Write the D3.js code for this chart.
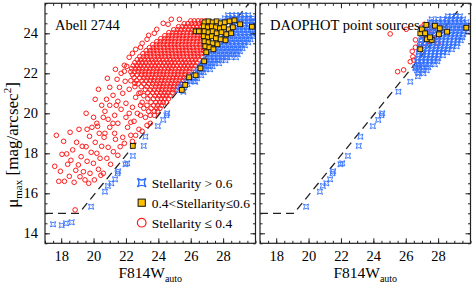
<!DOCTYPE html>
<html>
<head>
<meta charset="utf-8">
<script src="https://cdn.jsdelivr.net/npm/d3@7"></script>
<style>
  body { margin: 0; background: #fff; }
  svg { display: block; font-family: "Liberation Serif", "Times New Roman", serif; }
</style>
</head>
<body>
<div id="chart"></div>
<script>
// axis setup
const xTicks = [18, 20, 22, 24, 26, 28];
const yTicks = [14, 16, 18, 20, 22, 24];
const panelTitles = ["Abell 2744", "DAOPHOT point sources"];
const legendLabels = ["Stellarity > 0.6", "0.4<Stellarity\u22640.6", "Stellarity \u2264 0.4"];
const cutLine = [[17, 15], [19.1, 15], [29.6, 25.5]];

// bright compact sources (both panels)
const brightStars = [[19.85,15.33],[20.7,16.08],[20.88,16.37],[21.1,16.5],[21.33,16.7],[21.48,17.0],[21.52,17.1],
  [21.97,17.45],[22.08,17.5],[22.43,17.87],[23.1,18.37],[23.2,18.83],[23.97,19.36],[24.3,19.67],[24.5,19.9],
  [24.55,20.0],[25.55,21.08],[26.28,21.58],[26.6,22.25],[26.8,22.4]];
// saturated stars, only in the SExtractor panel
const saturatedStars = [[17.5,14.45],[18.03,14.4],[18.3,14.5],[18.65,14.55]];

// Abell 2744 panel: faint compact sources, rows of [mu, [mag...]]
const blueRowsA = [
  [24.9,[28.3,28.55,28.8,29.05,29.3,29.55]],
  [24.75,[28.1,28.35,28.6,28.85,29.1,29.35,29.6,29.85]],
  [24.6,[28.0,28.25,28.75,29.0,29.25,29.5,29.75,29.95]],
  [24.45,[28.6,28.85,29.1,29.35,29.6,29.85]],
  [24.3,[28.55,28.8,29.05,29.3,29.55,29.8]],
  [24.15,[28.45,28.7,28.95,29.2,29.45,29.7,29.95]],
  [24.0,[28.3,28.55,28.8,29.05,29.3,29.55,29.8]],
  [23.85,[28.1,28.35,28.6,28.85,29.1,29.35,29.6,29.85]],
  [23.7,[27.95,28.2,28.45,28.7,28.95,29.2,29.45,29.7]],
  [23.55,[27.8,28.05,28.3,28.55,28.8,29.05,29.3,29.55]],
  [23.4,[27.6,27.85,28.1,28.35,28.6,28.85,29.1,29.35]],
  [23.25,[27.45,27.7,27.95,28.2,28.45,28.7,28.95,29.2]],
  [23.1,[27.3,27.55,27.8,28.05,28.3,28.55,28.8,29.05]],
  [22.95,[27.15,27.4,27.65,27.9,28.15,28.4,28.65,28.9]],
  [22.8,[27.0,27.25,27.5,27.75,28.0,28.25,28.5,28.8]],
  [22.65,[26.9,27.15,27.4,27.65,27.9,28.15]],
  [22.5,[26.75,27.0,27.25,27.5,27.75]],
  [22.35,[26.6,26.85,27.1,27.35]],
  [22.2,[26.45,26.7,26.95,27.2]],
  [22.05,[26.3,26.55,26.8]],
  [21.9,[26.15,26.4,26.65]],
  [21.75,[25.9,26.15,26.4]],
  [21.6,[25.7,25.95,26.2]],
  [21.45,[25.5,25.8]],
  [21.3,[25.35,25.6]],
  [21.15,[25.2]]
];

// Abell 2744 panel: extended sources, dense core rows
const redRowsA = [
  [24.62,[26.0,26.22,26.45,26.68,26.9]],
  [24.48,[25.6,25.82,26.05,26.28,26.5,26.72,26.95]],
  [24.33,[25.25,25.48,25.7,25.92,26.15,26.38,26.6,26.82]],
  [24.18,[24.95,25.18,25.4,25.62,25.85,26.08,26.3,26.52,26.75,26.95]],
  [24.03,[24.65,24.88,25.1,25.32,25.55,25.78,26.0,26.22,26.45,26.68,26.9]],
  [23.88,[24.4,24.62,24.85,25.08,25.3,25.52,25.75,25.98,26.2,26.42,26.65,26.88]],
  [23.73,[24.15,24.38,24.6,24.82,25.05,25.28,25.5,25.72,25.95,26.18,26.4,26.62,26.85]],
  [23.58,[23.9,24.12,24.35,24.58,24.8,25.02,25.25,25.48,25.7,25.92,26.15,26.38,26.6,26.82]],
  [23.43,[23.65,23.88,24.1,24.32,24.55,24.78,25.0,25.22,25.45,25.68,25.9,26.12,26.35,26.58,26.8]],
  [23.28,[23.45,23.68,23.9,24.12,24.35,24.58,24.8,25.02,25.25,25.48,25.7,25.92,26.15,26.38,26.6,26.8]],
  [23.13,[23.25,23.48,23.7,23.92,24.15,24.38,24.6,24.82,25.05,25.28,25.5,25.72,25.95,26.18,26.4,26.62,26.8]],
  [22.98,[23.05,23.28,23.5,23.72,23.95,24.18,24.4,24.62,24.85,25.08,25.3,25.52,25.75,25.98,26.2,26.42,26.65]],
  [22.83,[22.85,23.08,23.3,23.52,23.75,23.98,24.2,24.42,24.65,24.88,25.1,25.32,25.55,25.78,26.0,26.22,26.45,26.68]],
  [22.68,[22.7,22.92,23.15,23.38,23.6,23.82,24.05,24.28,24.5,24.72,24.95,25.18,25.4,25.62,25.85,26.08,26.3,26.52]],
  [22.53,[22.55,22.78,23.0,23.22,23.45,23.68,23.9,24.12,24.35,24.58,24.8,25.02,25.25,25.48,25.7,25.92,26.15,26.38]],
  [22.38,[22.45,22.68,22.9,23.12,23.35,23.58,23.8,24.02,24.25,24.48,24.7,24.92,25.15,25.38,25.6,25.82,26.05,26.28]],
  [22.23,[22.35,22.58,22.8,23.02,23.25,23.48,23.7,23.92,24.15,24.38,24.6,24.82,25.05,25.28,25.5,25.72,25.95,26.15]],
  [22.08,[22.3,22.52,22.75,22.98,23.2,23.42,23.65,23.88,24.1,24.32,24.55,24.78,25.0,25.22,25.45,25.68,25.9]],
  [21.93,[22.4,22.7,22.95,23.18,23.4,23.62,23.85,24.08,24.3,24.52,24.75,24.98,25.2,25.42,25.65,25.88]],
  [21.78,[22.5,22.85,23.1,23.32,23.55,23.78,24.0,24.22,24.45,24.68,24.9,25.12,25.35,25.58,25.78]],
  [21.63,[22.3,22.65,23.0,23.25,23.5,23.72,23.95,24.18,24.4,24.62,24.85,25.08,25.3,25.52]],
  [21.48,[22.75,23.1,23.4,23.65,23.88,24.1,24.32,24.55,24.78,25.0,25.22,25.42]],
  [21.33,[22.55,22.95,23.3,23.58,23.82,24.05,24.28,24.5,24.72,24.95,25.2]],
  [21.18,[23.2,23.5,23.75,24.0,24.22,24.45,24.68,24.9,25.1]],
  [21.03,[22.9,23.35,23.65,23.9,24.15,24.38,24.6,24.85]],
  [20.88,[23.1,23.5,23.8,24.05,24.28,24.5,24.72]],
  [20.73,[23.35,23.7,23.95,24.18,24.4,24.62]],
  [20.55,[23.0,23.55,23.85,24.1,24.3,24.5]],
  [20.4,[23.3,23.7,23.95,24.2]],
  [20.25,[23.1,23.55,23.9,24.1]],
  [20.1,[23.4,23.75,23.95]],
  [19.9,[22.9,23.5,23.75]]
];

// Abell 2744 panel: looser extended sources
const redLooseA = [
  [18.86,15.17],[17.7,18.9],[17.6,17.35],[17.85,16.6],[18.05,17.95],[18.2,16.6],[18.34,17.97],[18.4,17.45],
  [18.5,16.85],[18.6,17.65],[18.71,18.17],[18.8,16.55],[18.9,17.15],[18.95,18.55],[19.06,17.42],[19.16,16.83],
  [19.23,17.83],[19.3,18.35],[19.37,17.08],[19.47,16.67],[19.54,18.33],[19.6,17.6],[19.7,16.5],[19.78,17.0],
  [19.85,18.05],[19.99,17.5],[20.05,16.67],[20.1,18.55],[20.2,18.0],[20.3,17.2],[20.4,17.75],[20.5,18.35],
  [20.6,17.0],[20.65,18.8],[20.82,17.75],[20.9,18.3],[21.05,17.45],[21.22,18.08],[21.35,18.7],[21.5,17.9],
  [21.64,18.33],[18.15,18.6],[18.55,19.05],[19.1,19.2],[19.75,18.85],[20.25,19.35],[17.95,17.1],[20.45,16.9],
  [19.54,20.0],[19.9,19.3],[20.0,19.8],[20.1,20.7],[20.2,19.5],[20.3,21.2],[20.5,20.4],[20.6,19.8],[20.7,19.0],
  [20.7,20.1],[20.8,20.7],[20.85,21.75],[20.9,19.7],[21.0,19.3],[21.0,20.4],[21.0,21.3],[21.2,20.9],[21.3,19.0],
  [21.3,19.9],[21.35,22.2],[21.4,20.4],[21.45,21.7],[21.5,19.5],[21.5,20.6],[21.6,21.3],[21.7,20.2],[21.7,22.0],
  [21.8,18.8],[21.8,21.0],[21.9,22.1],[21.9,18.5],[21.95,21.6],[22.0,19.8],[22.0,20.5],[22.1,19.3],[22.2,20.0],
  [22.2,21.2],[22.3,18.9],[22.4,20.3],[22.4,18.6],[22.5,19.6],[22.55,21.5],[22.6,20.8],[22.6,18.9],[22.7,20.0],
  [22.8,19.2],[22.8,21.0],[22.9,20.4],[23.0,19.1],[23.2,19.8],[23.3,19.4],[23.5,19.5],[22.3,19.55],[21.2,19.5],
  [20.35,19.0],[19.6,19.2],[21.9,22.4],[22.2,22.8],[22.6,23.2],[23.0,23.5],[23.4,23.9],[23.9,24.2],[24.3,24.5],
  [24.8,24.7],[22.05,22.35],[22.4,23.0],[22.9,23.3],[23.3,23.7],[23.75,24.0],[24.6,24.45],[25.3,24.7]
];

// Abell 2744 panel: intermediate stellarity
const yellowA = [
  [26.85,24.55],[27.1,24.6],[27.35,24.55],[27.6,24.6],[27.85,24.5],[28.1,24.55],[28.4,24.6],[28.7,24.65],
  [29.05,24.45],[29.78,24.33],[26.8,24.35],[27.05,24.3],[27.3,24.35],[27.55,24.3],[27.8,24.25],[28.05,24.3],
  [28.35,24.2],[28.6,24.3],[26.85,24.1],[27.1,24.05],[27.35,24.1],[27.6,24.0],[27.9,24.05],[28.2,23.95],
  [28.5,24.0],[26.8,23.85],[27.05,23.8],[27.3,23.85],[27.55,23.75],[27.85,23.7],[28.15,23.65],[26.85,23.6],
  [27.1,23.55],[27.35,23.5],[27.65,23.45],[26.9,23.35],[27.15,23.3],[27.4,23.2],[26.3,24.1],[26.5,24.1],
  [26.96,23.05],[26.83,22.6],[26.6,22.25],[26.3,21.9],[25.9,21.8],[25.66,21.42],[25.45,21.17],[22.42,18.37]
];

// DAOPHOT panel
const blueRowsB = [
  [24.85,[28.6,28.85,29.1,29.35]],
  [24.7,[27.6,28.0,28.3,28.55,28.8,29.05,29.3,29.55]],
  [24.55,[27.5,27.75,28.0,28.25,28.5,28.75,29.0,29.25,29.5,29.75]],
  [24.4,[27.35,27.6,27.85,28.1,28.35,28.6,28.85,29.1,29.35,29.6,29.85]],
  [24.25,[27.2,27.45,27.7,27.95,28.2,28.45,28.7,28.95,29.2,29.45,29.7,29.95]],
  [24.1,[27.1,27.35,27.6,27.85,28.1,28.35,28.6,28.85,29.1,29.35,29.6,29.85]],
  [23.95,[27.05,27.3,27.55,27.8,28.05,28.3,28.55,28.8,29.05,29.3,29.55]],
  [23.8,[27.0,27.25,27.5,27.75,28.0,28.25,28.5,28.75,29.0,29.25,29.5]],
  [23.65,[26.95,27.2,27.45,27.7,27.95,28.2,28.45,28.7,28.95,29.2,29.4]],
  [23.5,[26.95,27.2,27.45,27.7,27.95,28.2,28.45,28.7,28.95,29.2]],
  [23.35,[26.9,27.15,27.4,27.65,27.9,28.15,28.4,28.65,28.9,29.15]],
  [23.2,[26.85,27.1,27.35,27.6,27.85,28.1,28.35,28.6,28.85]],
  [23.05,[26.8,27.05,27.3,27.55,27.8,28.05,28.3,28.55]],
  [22.9,[26.8,27.05,27.3,27.55,27.8,28.05,28.3]],
  [22.75,[26.75,27.0,27.25,27.5,27.75,28.0]],
  [22.6,[26.7,26.95,27.2,27.45,27.7,27.95]],
  [22.45,[26.75,27.0,27.25,27.5,27.8]],
  [22.3,[26.6,26.85,27.1,27.4]],
  [22.15,[26.7,27.0,27.3]],
  [22.0,[26.8,27.1]],
  [21.85,[26.75]]
];
const redB = [[25.04,23.97],[26.03,24.2],[26.6,23.67],[26.85,23.45],[26.6,23.3],[26.44,22.83],[26.5,22.66],
  [26.28,22.58],[25.87,22.17],[25.5,22.08],[27.2,23.5],[27.3,24.1],[27.0,23.9],[27.5,23.95],[27.7,24.1],
  [27.9,23.8],[27.45,23.6],[26.95,24.3],[27.15,24.45],[26.4,23.1],[28.2,24.1],[27.6,24.3],[28.0,23.5]];
const yellowB = [[26.9,24.0],[27.0,24.2],[27.27,24.42],[27.3,23.7],[27.6,23.67],[27.8,24.38],[28.05,23.95],
  [28.1,24.25],[28.55,24.08],[29.74,24.28],[26.9,23.2],[27.2,24.0],[27.5,23.8]];

const fromRows = rows => rows.flatMap(([mu, mags]) => mags.map(m => [m, mu]));

const BLUE = "#2f6dff", RED = "#ff1a1a", GOLD = "#ffc000", INK = "#222";

const W = 472, H = 284;
const svg = d3.select("#chart").append("svg").attr("width", W).attr("height", H);

const frameTop = 3.3, frameBottom = 243.3, pw = 210.5;
const y = d3.scaleLinear().domain([13.5, 25.5]).range([frameBottom, frameTop]);

function starPath(s) {
  const c = s * 0.25;
  return `M${-s},${-s}Q0,${-c} ${s},${-s}Q${c},0 ${s},${s}Q0,${c} ${-s},${s}Q${-c},0 ${-s},${-s}Z`;
}

const panels = [
  { left: 45, red: fromRows(redRowsA).concat(redLooseA), blue: fromRows(blueRowsA).concat(brightStars, saturatedStars), yellow: yellowA },
  { left: 260, red: redB, blue: fromRows(blueRowsB).concat(brightStars), yellow: yellowB }
];

panels.forEach((p, i) => {
  const x = d3.scaleLinear().domain([17, 30]).range([p.left, p.left + pw]);
  const g = svg.append("g");

  g.append("clipPath").attr("id", "clip" + i)
    .append("rect").attr("x", p.left).attr("y", frameTop).attr("width", pw).attr("height", frameBottom - frameTop);

  const plot = g.append("g").attr("clip-path", `url(#clip${i})`);

  plot.append("path")
    .attr("d", d3.line().x(d => x(d[0])).y(d => y(d[1]))(cutLine))
    .attr("fill", "none").attr("stroke", INK).attr("stroke-width", 1.3)
    .attr("stroke-dasharray", "8,5");

  plot.selectAll(".red").data(p.red).enter().append("circle")
    .attr("cx", d => x(d[0])).attr("cy", d => y(d[1])).attr("r", 2.3)
    .attr("fill", "none").attr("stroke", RED).attr("stroke-width", 1);

  plot.selectAll(".blue").data(p.blue).enter().append("path")
    .attr("d", starPath(2.6))
    .attr("transform", d => `translate(${x(d[0])},${y(d[1])})`)
    .attr("fill", "none").attr("stroke", BLUE).attr("stroke-width", 0.9);

  plot.selectAll(".yel").data(p.yellow).enter().append("rect")
    .attr("x", d => x(d[0]) - 2.4).attr("y", d => y(d[1]) - 2.4)
    .attr("width", 4.8).attr("height", 4.8)
    .attr("fill", GOLD).attr("stroke", "#111").attr("stroke-width", 0.9);

  // axes, ticks pointing inward on all four sides
  const minorX = d3.range(17, 30.01, 0.5), minorY = d3.range(13.5, 25.51, 0.5);
  const axes = [
    [() => d3.axisBottom(x), `translate(0,${frameBottom})`, minorX, xTicks, true],
    [() => d3.axisTop(x), `translate(0,${frameTop})`, minorX, xTicks, false],
    [() => d3.axisLeft(y), `translate(${p.left},0)`, minorY, yTicks, i === 0],
    [() => d3.axisRight(y), `translate(${p.left + pw},0)`, minorY, yTicks, false]
  ];
  axes.forEach(([makeAxis, tr, minor, major, labels]) => {
    g.append("g").attr("transform", tr)
      .call(makeAxis().tickValues(minor).tickSize(-2.5).tickFormat(""))
      .call(a => a.select(".domain").remove());
    const mg = g.append("g").attr("transform", tr)
      .call(makeAxis().tickValues(major).tickSize(-5).tickPadding(labels ? 7 : 0)
        .tickFormat(labels ? d3.format("d") : ""));
    mg.select(".domain").remove();
    mg.selectAll("text").attr("font-size", 14.5).attr("font-family", "Liberation Serif").attr("fill", "#000");
  });
  g.selectAll(".tick line").attr("stroke", INK).attr("stroke-width", 1);

  g.append("rect").attr("x", p.left).attr("y", frameTop).attr("width", pw).attr("height", frameBottom - frameTop)
    .attr("fill", "none").attr("stroke", INK).attr("stroke-width", 1.2);

  g.append("text").attr("x", p.left + 10).attr("y", 30)
    .attr("font-size", 14.5).text(panelTitles[i]);

  const xl = g.append("text").attr("x", p.left + pw / 2).attr("y", 278)
    .attr("text-anchor", "middle").attr("font-size", 15.5);
  xl.append("tspan").text("F814W");
  xl.append("tspan").attr("font-size", 10).attr("dy", 3.5).text("auto");
});

// y label
const yl = svg.append("text").attr("transform", "translate(18,145) rotate(-90)")
  .attr("text-anchor", "middle").attr("font-size", 17);
yl.append("tspan").text("\u03bc");
yl.append("tspan").attr("font-size", 11).attr("dy", 4).text("max");
yl.append("tspan").attr("dy", -4).text(" [mag/arcsec");
yl.append("tspan").attr("font-size", 11).attr("dy", -7).text("2");
yl.append("tspan").attr("dy", 7).text("]");

// legend
const leg = svg.append("g").attr("transform", "translate(141.7,182.7)");
leg.append("path").attr("d", starPath(4.3)).attr("fill", "none").attr("stroke", BLUE).attr("stroke-width", 1.4);
leg.append("rect").attr("x", -3.6).attr("y", 20 - 3.6).attr("width", 7.2).attr("height", 7.2)
  .attr("fill", GOLD).attr("stroke", "#111").attr("stroke-width", 1);
leg.append("circle").attr("cy", 40).attr("r", 4.3).attr("fill", "none").attr("stroke", RED).attr("stroke-width", 1.2);
legendLabels.forEach((t, k) => {
  leg.append("text").attr("x", 10).attr("y", k * 20 + 5).attr("font-size", 13.5).text(t);
});
</script>
</body>
</html>
